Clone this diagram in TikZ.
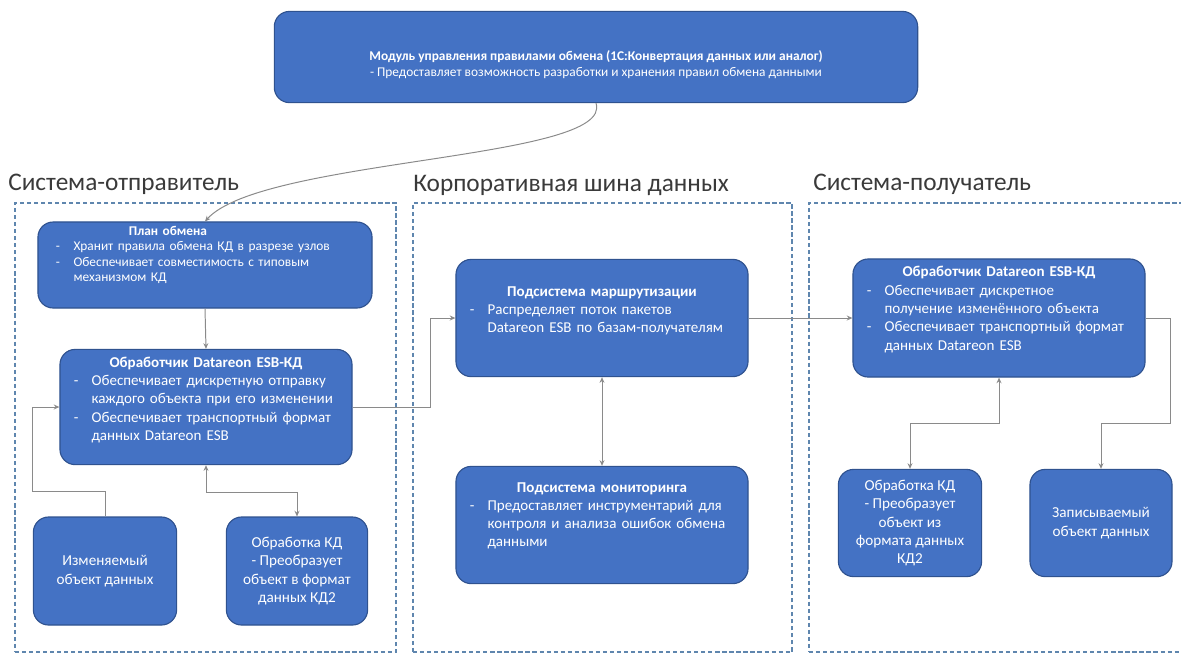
\documentclass[tikz,border=0pt]{standalone}
\usepackage{fontspec}
\setmainfont{Carlito}
\usepackage{tikz}
\usetikzlibrary{positioning,calc}
\usetikzlibrary{arrows.meta}
\definecolor{boxfill}{HTML}{4472C4}
\definecolor{boxline}{HTML}{2F528F}
\definecolor{framecol}{HTML}{5F86AE}
\definecolor{wire}{HTML}{8A8A8A}
\definecolor{headcol}{HTML}{3A3A3A}

% one dash-item with hanging indent
\newcommand{\dashitem}[1]{\par\noindent\hangindent=12.5pt\hangafter=1\makebox[12.5pt][l]{-}#1}
% empty room under the text of a box
\newcommand{\tailgap}[1]{\par\vspace{#1}\hrule height 0pt}

\begin{document}
\begin{tikzpicture}[
  x = 0.025cm,
  y = -0.025cm,
  box/.style = {
    draw = boxline,
    fill = boxfill,
    line width = 0.8pt,
    rounded corners = 0.38cm,
    text = white,
    font = \fontsize{9.5}{11}\selectfont,
    inner xsep = 0.45cm,
  },
  listbox/.style = {
    box,
    align = left,
    font = \fontsize{10.7}{13}\selectfont,
    text width = 6.6cm,
    inner xsep = 0.35cm,
  },
  smallbox/.style = {
    box,
    align = center,
    font = \fontsize{10.8}{13}\selectfont,
    minimum width = 3.58cm,
    minimum height = 2.7cm,
    inner xsep = 0.1cm,
  },
  frame/.style = {
    draw = framecol,
    dashed,
    dash pattern = on 3pt off 2pt,
    line width = 1.1pt,
    rectangle,
  },
  header/.style = {
    inner sep = 0pt,
    anchor = west,
    text = headcol,
    font = \fontsize{18}{21}\selectfont,
  },
  conn/.style = {
    draw = wire,
    line width = 0.7pt,
  },
  >={Stealth[length=4pt,width=3.5pt]},
]

  \useasboundingbox (0,0) rectangle (1181,654);
  \clip (0,0) rectangle (1181,654);

  % frames of the three systems
  \node[frame, minimum width=9.525cm, minimum height=11.225cm] (sender) at (205.5,427.5) {};
  \node[frame, minimum width=9.475cm, minimum height=11.225cm] (esb) at (602.5,427.5) {};
  \node[frame, minimum width=9.525cm, minimum height=11.225cm] (receiver) at (999.5,427.5) {};

  \node[header] (senderlabel) at (8,184) {Система-отправитель};
  \node[header] (esblabel) at (413,185) {Корпоративная шина данных};
  \node[header] (receiverlabel) at (813,184) {Система-получатель};

  % rules module
  \node[box, align=center, minimum width=16.08cm, minimum height=2.28cm] (rules) at (596,57)
    {\rule{0pt}{18pt}\textbf{Модуль управления правилами обмена (1С:Конвертация данных или аналог)}\\
     - Предоставляет возможность разработки и хранения правил обмена данными};

  % sender
  \node[box, align=left, text width=7.45cm, minimum height=2.15cm, inner ysep=2pt] (plan) at (205,265)
    {{\centering\bfseries\hspace*{-1.85cm}План обмена\par}%
     \dashitem{Хранит правила обмена КД в разрезе узлов}%
     \dashitem{Обеспечивает совместимость с типовым\newline механизмом КД}\tailgap{14pt}};
  \node[listbox, minimum height=2.88cm] (lhandler) at (206,407)
    {{\centering\bfseries Обработчик Datareon ESB-КД\par}%
     \dashitem{Обеспечивает дискретную отправку\newline каждого объекта при его изменении}%
     \dashitem{Обеспечивает транспортный формат\newline данных Datareon ESB}\tailgap{10pt}};
  \node[smallbox] (changed) at (105,571) {Изменяемый\\объект данных};
  \node[smallbox, minimum width=3.53cm] (lconv) at (297,571)
    {Обработка КД\\- Преобразует\\объект в формат\\данных КД2};

  % bus
  \node[listbox, minimum height=2.93cm] (routing) at (602,318)
    {{\centering\bfseries Подсистема маршрутизации\par}%
     \dashitem{Распределяет поток пакетов\newline Datareon ESB по базам-получателям}\tailgap{10pt}};
  \node[listbox, minimum height=2.93cm] (monitor) at (602,525)
    {{\centering\bfseries Подсистема мониторинга\par}%
     \dashitem{Предоставляет инструментарий для\newline контроля и анализа ошибок обмена\newline данными}\tailgap{13pt}};

  % receiver
  \node[listbox, minimum height=2.95cm] (rhandler) at (999,318)
    {{\centering\bfseries Обработчик Datareon ESB-КД\par}%
     \dashitem{Обеспечивает дискретное\newline получение изменённого объекта}%
     \dashitem{Обеспечивает транспортный формат\newline данных Datareon ESB}\tailgap{12pt}};
  \node[smallbox, minimum height=2.68cm] (rconv) at (910,523)
    {Обработка КД\\- Преобразует\\объект из\\формата данных\\КД2};
  \node[smallbox, minimum width=3.55cm, minimum height=2.68cm] (written) at (1101,523)
    {Записываемый\\объект данных};

  % connectors
  \draw[conn,->] (rules.south) .. controls (615,160) and (262,158) .. (plan.north);
  \draw[conn,->] (plan.south) -- (lhandler.north);
  \draw[conn,->] (lhandler.east) -- ++(78,0) |- (routing.west);
  \draw[conn,->] (routing.east) -- (rhandler.west);
  \draw[conn,<->] (routing.south) -- (monitor.north);
  \draw[conn,->] (changed.north) -- ++(0,-25) -- ++(-73,0) |- (lhandler.west);
  \draw[conn,<->] (lhandler.south) -- ++(0,27) -| (lconv.north);
  \draw[conn,<->] (rhandler.south) -- ++(0,46) -| (rconv.north);
  \draw[conn,->] (rhandler.east) -- ++(25,0) -- ++(0,105) -| (written.north);

\end{tikzpicture}
\end{document}
